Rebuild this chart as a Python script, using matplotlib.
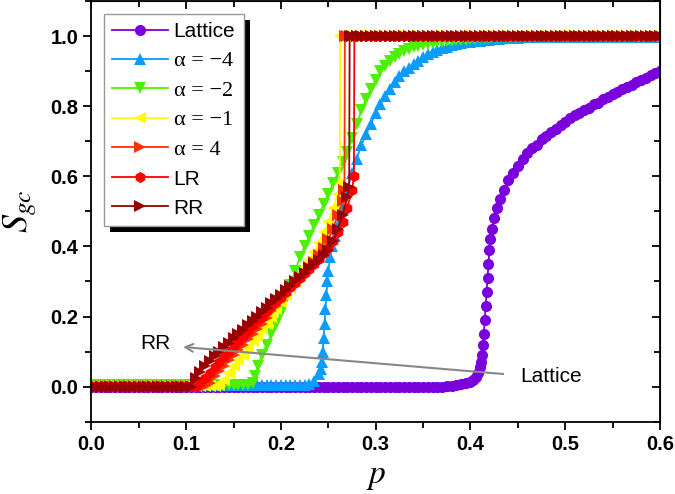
import numpy as np
import matplotlib
matplotlib.use("Agg")
import matplotlib.pyplot as plt
from matplotlib.patches import Rectangle
from matplotlib.ticker import MultipleLocator

plt.rcParams['mathtext.fontset'] = 'stix'


def grid(a, b):
    return [round(x, 4) for x in np.arange(a, b + 1e-9, 0.005)]


# ---------------- data ----------------
lat_p = grid(0.0, 0.37) + [0.375, 0.38, 0.385, 0.39, 0.395, 0.4, 0.403, 0.406, 0.408, 0.41,
                            0.411, 0.412, 0.413, 0.414, 0.415, 0.416, 0.417, 0.418, 0.419, 0.42,
                            0.421, 0.423, 0.425, 0.428, 0.431, 0.435] + grid(0.44, 0.6)
lat_s = [0.0] * len(grid(0.0, 0.37)) + [0.002, 0.003, 0.005, 0.007, 0.01, 0.014, 0.02, 0.028, 0.04, 0.055,
                                        0.07, 0.09, 0.12, 0.15, 0.19, 0.23, 0.27, 0.31, 0.35, 0.39,
                                        0.42, 0.45, 0.48, 0.51, 0.535, 0.56,
                                        0.59, 0.61, 0.63, 0.65, 0.665, 0.68, 0.69, 0.705, 0.715, 0.725,
                                        0.735, 0.745, 0.755, 0.765, 0.775, 0.78, 0.79, 0.795, 0.805, 0.81,
                                        0.82, 0.825, 0.835, 0.84, 0.85, 0.855, 0.86, 0.87, 0.875, 0.88,
                                        0.89, 0.895, 0.90]

a4_p = grid(0.0, 0.235) + [0.24, 0.242, 0.243, 0.244, 0.245, 0.246, 0.247, 0.248, 0.249, 0.25,
                           0.252, 0.254, 0.257] + grid(0.26, 0.6)
a4_s = [0.004] * len(grid(0.0, 0.225)) + [0.008, 0.015,
                                          0.035, 0.05, 0.07, 0.1, 0.14, 0.18, 0.22, 0.26, 0.3, 0.33,
                                          0.37, 0.4, 0.43,
                                          0.46, 0.51, 0.56, 0.61, 0.65, 0.69, 0.72, 0.75, 0.78, 0.805,
                                          0.83, 0.85, 0.87, 0.885, 0.9, 0.91, 0.92, 0.93, 0.94, 0.948,
                                          0.955, 0.96, 0.965, 0.97, 0.974, 0.977, 0.98, 0.982, 0.984, 0.986,
                                          0.987, 0.988, 0.99, 0.991, 0.992, 0.993, 0.994, 0.994, 0.995] \
    + [0.998] * len(grid(0.455, 0.6))

a2_p = grid(0.0, 0.17) + [0.173, 0.176] + grid(0.18, 0.6)
a2_s = [0.004] * len(grid(0.0, 0.165)) + [0.01, 0.03, 0.06,
                                          0.09, 0.12, 0.15, 0.18, 0.21, 0.25, 0.29, 0.33, 0.37, 0.4,
                                          0.43, 0.46, 0.49, 0.52, 0.55, 0.58, 0.61, 0.64, 0.67, 0.71,
                                          0.75, 0.79, 0.82, 0.85, 0.875, 0.9, 0.915, 0.93, 0.94, 0.95,
                                          0.957, 0.963, 0.968, 0.972, 0.975, 0.978, 0.98, 0.982, 0.984, 0.986,
                                          0.987, 0.988, 0.989, 0.99, 0.991, 0.992, 0.993, 0.994, 0.995, 0.996,
                                          0.997] + [0.998] * len(grid(0.435, 0.6))

a1_p = grid(0.0, 0.26) + [0.262, 0.2625] + grid(0.265, 0.6)
a1_s = [0.002] * len(grid(0.0, 0.13)) + [0.005, 0.02, 0.04, 0.06, 0.075, 0.09, 0.11, 0.13, 0.145, 0.165,
                                         0.18, 0.2, 0.22, 0.24, 0.26, 0.28, 0.3, 0.32, 0.34, 0.36,
                                         0.385, 0.41, 0.44, 0.47, 0.51, 0.55, 0.58, 1.0] \
    + [1.0] * len(grid(0.265, 0.6))

ap4_p = grid(0.0, 0.265) + [0.267, 0.2675] + grid(0.27, 0.6)
ap4_s = [0.001] * len(grid(0.0, 0.12)) + [0.01, 0.03, 0.045, 0.06, 0.075, 0.09, 0.105, 0.12, 0.135, 0.15,
                                          0.165, 0.18, 0.195, 0.215, 0.23, 0.245, 0.26, 0.275, 0.29, 0.305,
                                          0.32, 0.34, 0.355, 0.375, 0.395, 0.42, 0.45, 0.49, 0.53, 0.56,
                                          1.0] + [1.0] * len(grid(0.27, 0.6))

lr_p = grid(0.0, 0.275) + [0.277, 0.2775] + grid(0.28, 0.6)
lr_s = [0.001] * len(grid(0.0, 0.11)) + [0.01, 0.025, 0.04, 0.055, 0.07, 0.085, 0.1, 0.115, 0.13, 0.145,
                                         0.16, 0.175, 0.19, 0.2, 0.215, 0.23, 0.245, 0.255, 0.27, 0.285,
                                         0.295, 0.31, 0.325, 0.335, 0.35, 0.365, 0.38, 0.395, 0.415, 0.44,
                                         0.47, 0.51, 0.56, 0.6, 1.0] + [1.0] * len(grid(0.28, 0.6))

rr_p = grid(0.0, 0.27) + [0.272, 0.2725] + grid(0.275, 0.6)
rr_s = [0.0] * len(grid(0.0, 0.105)) + [0.025, 0.042, 0.058, 0.073, 0.087, 0.1, 0.112, 0.125, 0.138,
                                        0.15, 0.162, 0.175, 0.188, 0.2, 0.212, 0.225, 0.238, 0.25, 0.262,
                                        0.275, 0.288, 0.3, 0.312, 0.325, 0.338, 0.35, 0.362, 0.375, 0.39,
                                        0.415, 0.45, 0.49, 0.54, 0.57, 1.0] + [1.0] * len(grid(0.275, 0.6))

series = [
    (lat_p, lat_s, 'Lattice', '#7a00dc', 'o', 8.0),
    (a4_p, a4_s, 'α = −4', '#0a9cff', '^', 8.5),
    (a2_p, a2_s, 'α = −2', '#4cf000', 'v', 8.5),
    (a1_p, a1_s, 'α = −1', '#ffff00', '<', 8.5),
    (ap4_p, ap4_s, 'α = 4', '#ff3300', '>', 8.5),
    (lr_p, lr_s, 'LR', '#ff0000', 'h', 8.0),
    (rr_p, rr_s, 'RR', '#990000', '>', 8.5),
]

for p, s, *_ in series:
    assert len(p) == len(s), (len(p), len(s))

# ---------------- figure ----------------
fig = plt.figure(figsize=(6.75, 4.94), dpi=100)
ax = fig.add_axes([0.1354, 0.1464, 0.8424, 0.8516])

for p, s, lab, col, mk, ms in series:
    ax.plot(p, s, color=col, marker=mk, markersize=ms, markeredgewidth=0,
            linewidth=1.3, label=lab)

ax.set_xlim(0, 0.6)
ax.set_ylim(-0.1, 1.1)
ax.xaxis.set_major_locator(MultipleLocator(0.1))
ax.xaxis.set_minor_locator(MultipleLocator(0.05))
ax.yaxis.set_major_locator(MultipleLocator(0.2))
ax.yaxis.set_minor_locator(MultipleLocator(0.1))
ax.set_yticks([0.0, 0.2, 0.4, 0.6, 0.8, 1.0])
ax.tick_params(which='both', direction='out', width=1.3)
ax.tick_params(which='major', length=6)
ax.tick_params(which='minor', length=4)
for sp in ax.spines.values():
    sp.set_linewidth(1.3)

for lbl in ax.get_xticklabels() + ax.get_yticklabels():
    lbl.set_fontfamily('Liberation Sans')
    lbl.set_fontweight('bold')
    lbl.set_fontsize(14.5)

sx = ax.secondary_xaxis('top')
sx.xaxis.set_major_locator(MultipleLocator(0.1))
sx.xaxis.set_minor_locator(MultipleLocator(0.05))
sx.tick_params(which='both', direction='in', labeltop=False, width=1.3)
sx.tick_params(which='major', length=6)
sx.tick_params(which='minor', length=4)
sy = ax.secondary_yaxis('right')
sy.yaxis.set_major_locator(MultipleLocator(0.2))
sy.yaxis.set_minor_locator(MultipleLocator(0.1))
sy.tick_params(which='both', direction='in', labelright=False, width=1.3)
sy.tick_params(which='major', length=6)
sy.tick_params(which='minor', length=4)

ax.set_xlabel(r'$p$', fontsize=24, labelpad=4)
ax.set_ylabel(r'$S_{gc}$', fontsize=26, labelpad=8)

# annotation
ax.annotate('', xy=(0.0967, 0.113), xytext=(0.4345, 0.036),
            arrowprops=dict(arrowstyle='->', color='#888888', lw=1.5,
                            shrinkA=0, shrinkB=0, mutation_scale=14), zorder=10)
ax.text(0.068, 0.124, 'RR', ha='center', va='center', fontsize=15,
        family='Liberation Sans', zorder=10)
ax.text(0.452, 0.028, 'Lattice', ha='left', va='center', fontsize=15,
        family='Liberation Sans', zorder=10)

leg = ax.legend(loc='upper left', bbox_to_anchor=(0.022, 0.969), borderaxespad=0,
                fancybox=False, framealpha=1, edgecolor='#999999',
                handlelength=2.7, handletextpad=0.25,
                labelspacing=0.48, borderpad=0.4, prop={'family': 'Liberation Sans', 'size': 15})
leg.get_frame().set_linewidth(1.0)
leg.set_zorder(5)
for i, t in enumerate(leg.get_texts()):
    if 1 <= i <= 4:
        t.set_fontfamily('Liberation Serif')
        t.set_fontsize(16)

fig.canvas.draw()
r = fig.canvas.get_renderer()
bb = leg.get_window_extent(r)
inv = ax.transAxes.inverted()
(x0, y0) = inv.transform((bb.x0 + 6, bb.y0 - 6))
(x1, y1) = inv.transform((bb.x1 + 6, bb.y1 - 6))
ax.add_patch(Rectangle((x0, y0), x1 - x0, y1 - y0, transform=ax.transAxes,
                       facecolor='black', edgecolor='none', zorder=4.9, clip_on=False))

fig.savefig('out.png', dpi=100)
